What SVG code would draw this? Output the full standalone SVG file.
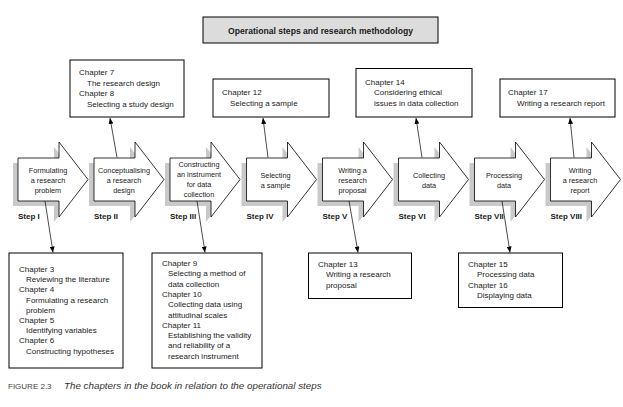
<svg xmlns="http://www.w3.org/2000/svg" width="623" height="407" viewBox="0 0 623 407">
<defs>
<style>
text{font-family:"Liberation Sans",Arial,sans-serif;fill:#1a1a1a}
.t{font-size:8px}
.a{font-size:7.3px;text-anchor:middle}
.s{font-size:8px;font-weight:bold}
.title{font-size:8.6px;font-weight:bold;text-anchor:middle}
.box{fill:#fff;stroke:#000;stroke-width:1}
.arr{fill:#fff;stroke:#000;stroke-width:0.8}
.sh{fill:#c9c9c9}
.c{stroke:#000;stroke-width:0.7;fill:none;marker-end:url(#ah)}
</style>
<path id="shape" d="M0,158 H41 V142 L70,179.5 L41,217 V201 H0 Z"/>
<marker id="ah" markerUnits="userSpaceOnUse" markerWidth="6" markerHeight="5" refX="6" refY="2.5" orient="auto">
<path d="M0,0 L6,2.5 L0,5 Z" fill="#000"/>
</marker>
</defs>
<rect width="623" height="407" fill="#fff"/>

<g id="title">
<rect x="203" y="17" width="235" height="26" fill="#dcdcdc" stroke="#000" stroke-width="1"/>
<text class="title" x="320.5" y="33.5">Operational steps and research methodology</text>
</g>

<g id="shadows">
<use href="#shape" class="sh" transform="translate(13,5)"/>
<use href="#shape" class="sh" transform="translate(89,5)"/>
<use href="#shape" class="sh" transform="translate(165,5)"/>
<use href="#shape" class="sh" transform="translate(241.5,5)"/>
<use href="#shape" class="sh" transform="translate(317.5,5)"/>
<use href="#shape" class="sh" transform="translate(393.5,5)"/>
<use href="#shape" class="sh" transform="translate(469.5,5)"/>
<use href="#shape" class="sh" transform="translate(545.5,5)"/>
</g>

<g id="step1">
<use href="#shape" class="arr" transform="translate(18,0)"/>
<text class="a" x="48" y="173">Formulating</text>
<text class="a" x="48" y="183">a research</text>
<text class="a" x="48" y="193">problem</text>
<text class="s" x="18" y="219">Step I</text>
</g>
<g id="step2">
<use href="#shape" class="arr" transform="translate(94,0)"/>
<text class="a" x="124" y="173">Conceptualising</text>
<text class="a" x="124" y="183">a research</text>
<text class="a" x="124" y="193">design</text>
<text class="s" x="94" y="219">Step II</text>
</g>
<g id="step3">
<use href="#shape" class="arr" transform="translate(170,0)"/>
<text class="a" x="199" y="167">Constructing</text>
<text class="a" x="199" y="177">an instrument</text>
<text class="a" x="199" y="187">for data</text>
<text class="a" x="199" y="197">collection</text>
<text class="s" x="170" y="219">Step III</text>
</g>
<g id="step4">
<use href="#shape" class="arr" transform="translate(246.5,0)"/>
<text class="a" x="275.5" y="178">Selecting</text>
<text class="a" x="275.5" y="188">a sample</text>
<text class="s" x="246.5" y="219">Step IV</text>
</g>
<g id="step5">
<use href="#shape" class="arr" transform="translate(322.5,0)"/>
<text class="a" x="352.5" y="173">Writing a</text>
<text class="a" x="352.5" y="183">research</text>
<text class="a" x="352.5" y="193">proposal</text>
<text class="s" x="322.5" y="219">Step V</text>
</g>
<g id="step6">
<use href="#shape" class="arr" transform="translate(398.5,0)"/>
<text class="a" x="429" y="178">Collecting</text>
<text class="a" x="429" y="188">data</text>
<text class="s" x="398.5" y="219">Step VI</text>
</g>
<g id="step7">
<use href="#shape" class="arr" transform="translate(474.5,0)"/>
<text class="a" x="504" y="178">Processing</text>
<text class="a" x="504" y="188">data</text>
<text class="s" x="474.5" y="219">Step VII</text>
</g>
<g id="step8">
<use href="#shape" class="arr" transform="translate(550.5,0)"/>
<text class="a" x="580" y="173">Writing</text>
<text class="a" x="580" y="183">a research</text>
<text class="a" x="580" y="193">report</text>
<text class="s" x="550.5" y="219">Step VIII</text>
</g>

<g id="box-ch7-8">
<rect class="box" x="70" y="60" width="114" height="57"/>
<text class="t" x="79" y="75">Chapter 7</text>
<text class="t" x="87" y="85.5">The research design</text>
<text class="t" x="79" y="96">Chapter 8</text>
<text class="t" x="87" y="106.5">Selecting a study design</text>
</g>
<g id="box-ch12">
<rect class="box" x="213" y="79" width="116" height="38"/>
<text class="t" x="222" y="94.5">Chapter 12</text>
<text class="t" x="230" y="105.5">Selecting a sample</text>
</g>
<g id="box-ch14">
<rect class="box" x="356" y="68.5" width="116" height="48.5"/>
<text class="t" x="365" y="84.5">Chapter 14</text>
<text class="t" x="374" y="95">Considering ethical</text>
<text class="t" x="374" y="105.5">issues in data collection</text>
</g>
<g id="box-ch17">
<rect class="box" x="500" y="79" width="115" height="38"/>
<text class="t" x="508" y="94.5">Chapter 17</text>
<text class="t" x="517" y="105.5">Writing a research report</text>
</g>

<g id="box-ch3-6">
<rect class="box" x="9" y="253" width="114" height="115"/>
<text class="t" x="19" y="272">Chapter 3</text>
<text class="t" x="26" y="282.2">Reviewing the literature</text>
<text class="t" x="19" y="292.4">Chapter 4</text>
<text class="t" x="26" y="302.6">Formulating a research</text>
<text class="t" x="26" y="312.8">problem</text>
<text class="t" x="19" y="323">Chapter 5</text>
<text class="t" x="26" y="333.2">Identifying variables</text>
<text class="t" x="19" y="343.4">Chapter 6</text>
<text class="t" x="26" y="353.6">Constructing hypotheses</text>
</g>
<g id="box-ch9-11">
<rect class="box" x="152" y="253" width="110" height="115"/>
<text class="t" x="162" y="266">Chapter 9</text>
<text class="t" x="168" y="276.3">Selecting a method of</text>
<text class="t" x="168" y="286.6">data collection</text>
<text class="t" x="162" y="296.9">Chapter 10</text>
<text class="t" x="168" y="307.2">Collecting data using</text>
<text class="t" x="168" y="317.5">attitudinal scales</text>
<text class="t" x="162" y="327.8">Chapter 11</text>
<text class="t" x="168" y="338.1">Establishing the validity</text>
<text class="t" x="168" y="348.4">and reliability of a</text>
<text class="t" x="168" y="358.7">research instrument</text>
</g>
<g id="box-ch13">
<rect class="box" x="308.5" y="253" width="103" height="45.5"/>
<text class="t" x="318" y="267">Chapter 13</text>
<text class="t" x="326" y="277.3">Writing a research</text>
<text class="t" x="326" y="287.6">proposal</text>
</g>
<g id="box-ch15-16">
<rect class="box" x="458.5" y="253" width="104" height="54.5"/>
<text class="t" x="468" y="267">Chapter 15</text>
<text class="t" x="477" y="277.3">Processing data</text>
<text class="t" x="468" y="287.6">Chapter 16</text>
<text class="t" x="477" y="298">Displaying data</text>
</g>

<g id="connectors">
<line class="c" x1="117" y1="157.5" x2="110" y2="118"/>
<line class="c" x1="268" y1="157.5" x2="263" y2="118"/>
<line class="c" x1="422" y1="157.5" x2="416" y2="118"/>
<line class="c" x1="574" y1="157.5" x2="570" y2="118"/>
<line class="c" x1="45" y1="201" x2="53" y2="252.5"/>
<line class="c" x1="197" y1="201" x2="205" y2="252.5"/>
<line class="c" x1="349" y1="201" x2="358" y2="252.5"/>
<line class="c" x1="502" y1="201" x2="510" y2="252.5"/>
</g>

<g id="caption">
<text x="8" y="389" style="font-size:8px;fill:#444">FIGURE 2.3</text>
<text x="64" y="389" style="font-size:9.8px;font-style:italic;fill:#333">The chapters in the book in relation to the operational steps</text>
</g>
</svg>
